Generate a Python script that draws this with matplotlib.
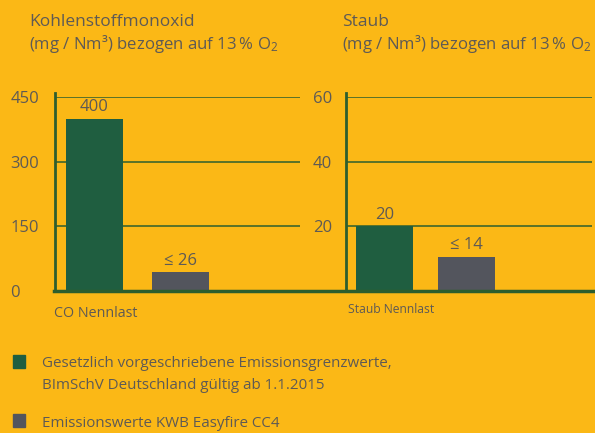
import matplotlib.pyplot as plt
from matplotlib.patches import Rectangle
from matplotlib.lines import Line2D

# ============ Data ============
co_values = [400, 43]          # bar heights as drawn in the reference
co_labels = ["400", "≤ 26"]
co_ticks = [0, 150, 300, 450]
co_tick_labels = ["0", "150", "300", "450"]

dust_values = [20, 10.5]
dust_labels = ["20", "≤ 14"]
dust_ticks = [0, 20, 40, 60]
dust_tick_labels = ["", "20", "40", "60"]

co_title = ["Kohlenstoffmonoxid", "(mg / Nm³) bezogen auf 13\u2009% O$_2$"]
dust_title = ["Staub", "(mg / Nm³) bezogen auf 13\u2009% O$_2$"]
co_xlabel = "CO Nennlast"
dust_xlabel = "Staub Nennlast"
series = [
    ["Gesetzlich vorgeschriebene Emissionsgrenzwerte,",
     "BImSchV Deutschland gültig ab 1.1.2015"],
    ["Emissionswerte KWB Easyfire CC4"],
]

# ============ Style ============
BG = "#FBB816"
GREEN = "#1F5E40"
GRAY = "#53555D"
TEXT = "#5E5A55"
LINE = "#2D5E2E"
bar_colors = [GREEN, GRAY]

plt.rcParams["font.family"] = ["Open Sans", "DejaVu Sans"]
plt.rcParams["mathtext.fontset"] = "custom"
plt.rcParams["mathtext.rm"] = "Open Sans"
plt.rcParams["mathtext.it"] = "Open Sans"

W, H = 595, 433
fig = plt.figure(figsize=(W / 100, H / 100), dpi=100, facecolor=BG)


def px_axes(x0, x1, ytop, ybot):
    return fig.add_axes([x0 / W, 1 - ybot / H, (x1 - x0) / W, (ybot - ytop) / H])


def fy(y):
    return 1 - y / H


def draw_panel(ax, values, labels, ticks, tick_labels, width, xlim, pad):
    ax.set_facecolor(BG)
    centers = list(range(len(values)))
    ax.bar(centers, values, width=width, color=bar_colors, zorder=3)
    for c, v, lab in zip(centers, values, labels):
        ax.annotate(lab, (c, v), xytext=(0, 2.5), textcoords="offset points",
                    ha="center", va="bottom", fontsize=12, color=TEXT)
    for t in ticks[1:]:
        ax.axhline(t, color=LINE, lw=1.1, zorder=1)
    ax.set_ylim(0, ticks[-1])
    ax.set_xlim(*xlim)
    ax.set_yticks(ticks)
    ax.set_yticklabels(tick_labels, ha="left")
    ax.tick_params(axis="y", length=0, pad=pad, labelsize=12, labelcolor=TEXT)
    ax.set_xticks([])
    for s in ["top", "right", "bottom"]:
        ax.spines[s].set_visible(False)
    ax.spines["left"].set_color(LINE)
    ax.spines["left"].set_linewidth(2)
    ax.spines["left"].set_bounds(0, ticks[-1] * 1.02)
    ax.spines["left"].set_clip_on(False)


# left panel: CO
ax1 = px_axes(55, 300, 97, 290.7)
draw_panel(ax1, co_values, co_labels, co_ticks, co_tick_labels, 0.663,
           ((55 - 94.5) / 86, (300 - 94.5) / 86), 32)

# right panel: dust
ax2 = px_axes(346, 592, 97, 290.7)
draw_panel(ax2, dust_values, dust_labels, dust_ticks, dust_tick_labels, 0.695,
           ((346 - 384.5) / 82, (592 - 384.5) / 82), 24)

# continuous baseline under both panels
fig.add_artist(Line2D([54 / W, 1], [fy(290.7)] * 2, color=LINE, lw=2.5,
                      transform=fig.transFigure))

# titles
for x, lines in [(29, co_title), (342, dust_title)]:
    for base, size, txt in zip([26, 49], [12.5, 12.1], lines):
        fig.text(x / W, fy(base), txt, ha="left", va="baseline", fontsize=size,
                 color=TEXT)

# category labels
fig.text(54 / W, fy(317), co_xlabel, ha="left", va="baseline", fontsize=10.3, color=TEXT)
fig.text(348 / W, fy(313), dust_xlabel, ha="left", va="baseline", fontsize=8.7, color=TEXT)

# legend
legend_sq = [355, 414]
legend_base = [[367, 389], [427]]
for sq, bases, col, lines in zip(legend_sq, legend_base, bar_colors, series):
    fig.add_artist(Rectangle((13 / W, fy(sq + 13)), 12 / W, 13 / H,
                             color=col, transform=fig.transFigure))
    for base, txt in zip(bases, lines):
        fig.text(42 / W, fy(base), txt, ha="left", va="baseline", fontsize=10.9,
                 color=TEXT)

fig.savefig("out.png", dpi=100, facecolor=BG)
